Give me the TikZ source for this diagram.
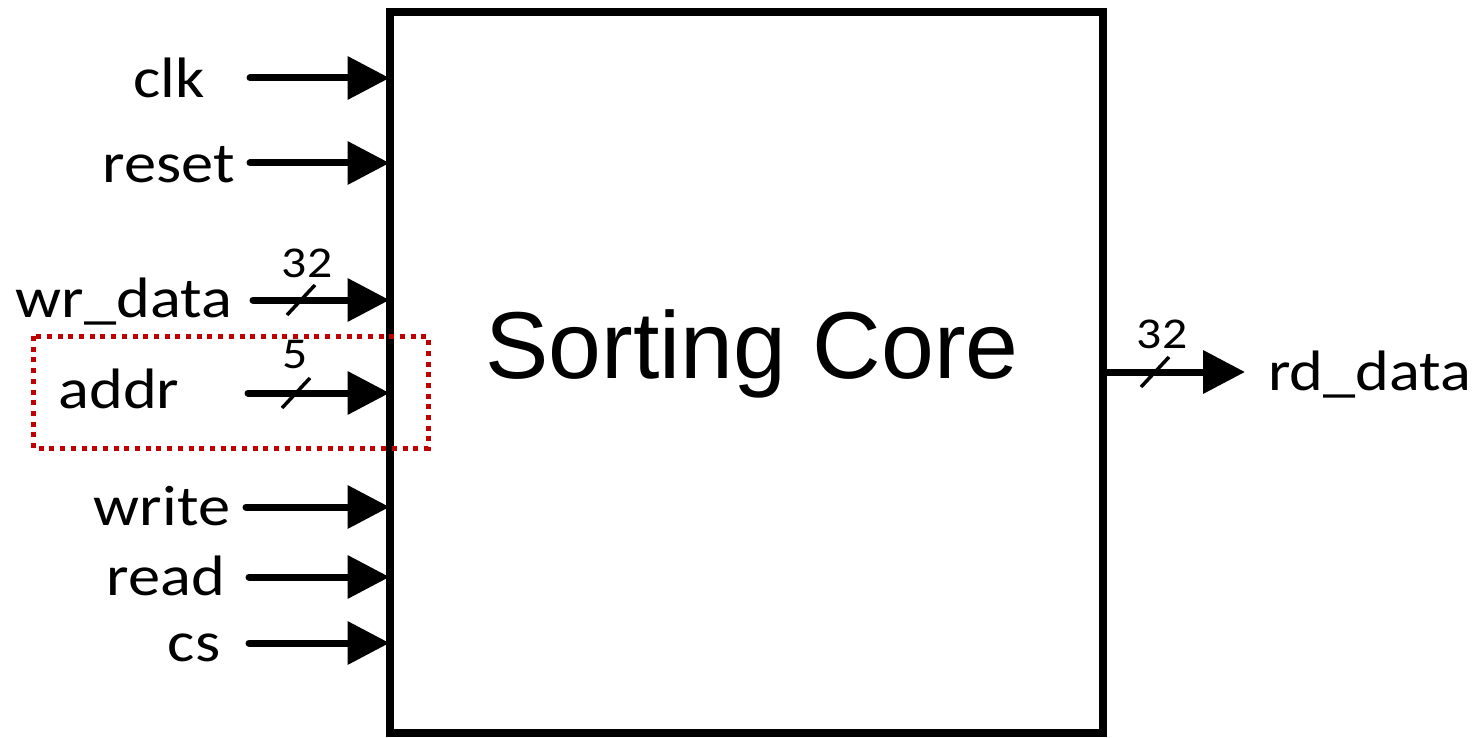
\documentclass[tikz,border=0pt]{standalone}
\usepackage{fontspec}
\setmainfont{Carlito}
\newfontfamily\pinfont[FakeStretch=1.13]{Carlito}
\newfontfamily\corefont{Liberation Sans}
\usetikzlibrary{arrows.meta}

\definecolor{hlred}{HTML}{C00000}
\tikzset{
  sig/.style={line width=7pt, line cap=round,
    -{Triangle[length=42pt,width=42pt]}},
  busmark/.style={line width=3.5pt},
  pin/.style={font=\pinfont\fontsize{57}{60}\selectfont, inner sep=0pt, anchor=base},
  width label/.style={font=\pinfont\fontsize{44}{48}\selectfont, inner sep=0pt, anchor=base},
  corebox/.style={draw, line width=8pt, minimum width=713pt, minimum height=721pt,
    inner sep=0pt, outer sep=0pt},
  highlight/.style={draw=hlred, line width=5pt, dash pattern=on 5pt off 5.7pt},
}

\begin{document}
\begin{tikzpicture}[x=1pt, y=-1pt]
  \useasboundingbox (0,0) rectangle (1478,738);

  % main block
  \node[corebox] (core) at (746,372.5) {};
  \node[font=\corefont\fontsize{95}{100}\selectfont, inner sep=0pt, anchor=base]
    (title) at (752,378) {Sorting Core};

  % start points of the input wires
  \coordinate (clk-s)   at (250,78);
  \coordinate (reset-s) at (250,163);
  \coordinate (wr-s)    at (253,300);
  \coordinate (addr-s)  at (248,393);
  \coordinate (write-s) at (246,507);
  \coordinate (read-s)  at (249,577);
  \coordinate (cs-s)    at (249,643);

  % input wires
  \foreach \p in {clk,reset,wr,addr,write,read,cs}
    \draw[sig] (\p-s) -- (core.west |- \p-s);

  % input names
  \node[pin] (clk)   at (169,98)  {clk};
  \node[pin] (reset) at (169,183) {reset};
  \node[pin] (wr)    at (124,317) {wr\_data};
  \node[pin] (addr)  at (119,408) {addr};
  \node[pin] (write) at (162,525) {write};
  \node[pin] (read)  at (166,595) {read};
  \node[pin] (cs)    at (194,661) {cs};

  % bus width marks on the inputs
  \coordinate (wr-m)   at (301,300);
  \coordinate (addr-m) at (296,393);
  \draw[busmark] ([shift={(-14,15)}]wr-m) -- ([shift={(14,-15)}]wr-m);
  \draw[busmark] ([shift={(-14,15)}]addr-m) -- ([shift={(14,-15)}]addr-m);
  \node[width label] (wr-w)   at (307,277) {32};
  \node[width label] (addr-w) at (295,368) {5};

  % output wire
  \coordinate (rd-t) at (1245,372);
  \draw[sig] (core.east |- rd-t) -- (rd-t);
  \node[pin, anchor=base west] (rd) at (1268,390) {rd\_data};
  \coordinate (rd-m) at (1155,372);
  \draw[busmark] ([shift={(-14,15)}]rd-m) -- ([shift={(14,-15)}]rd-m);
  \node[width label] (rd-w) at (1162,348) {32};

  % highlighted address port
  \draw[highlight] (33,336) rectangle (428,448);
\end{tikzpicture}
\end{document}
